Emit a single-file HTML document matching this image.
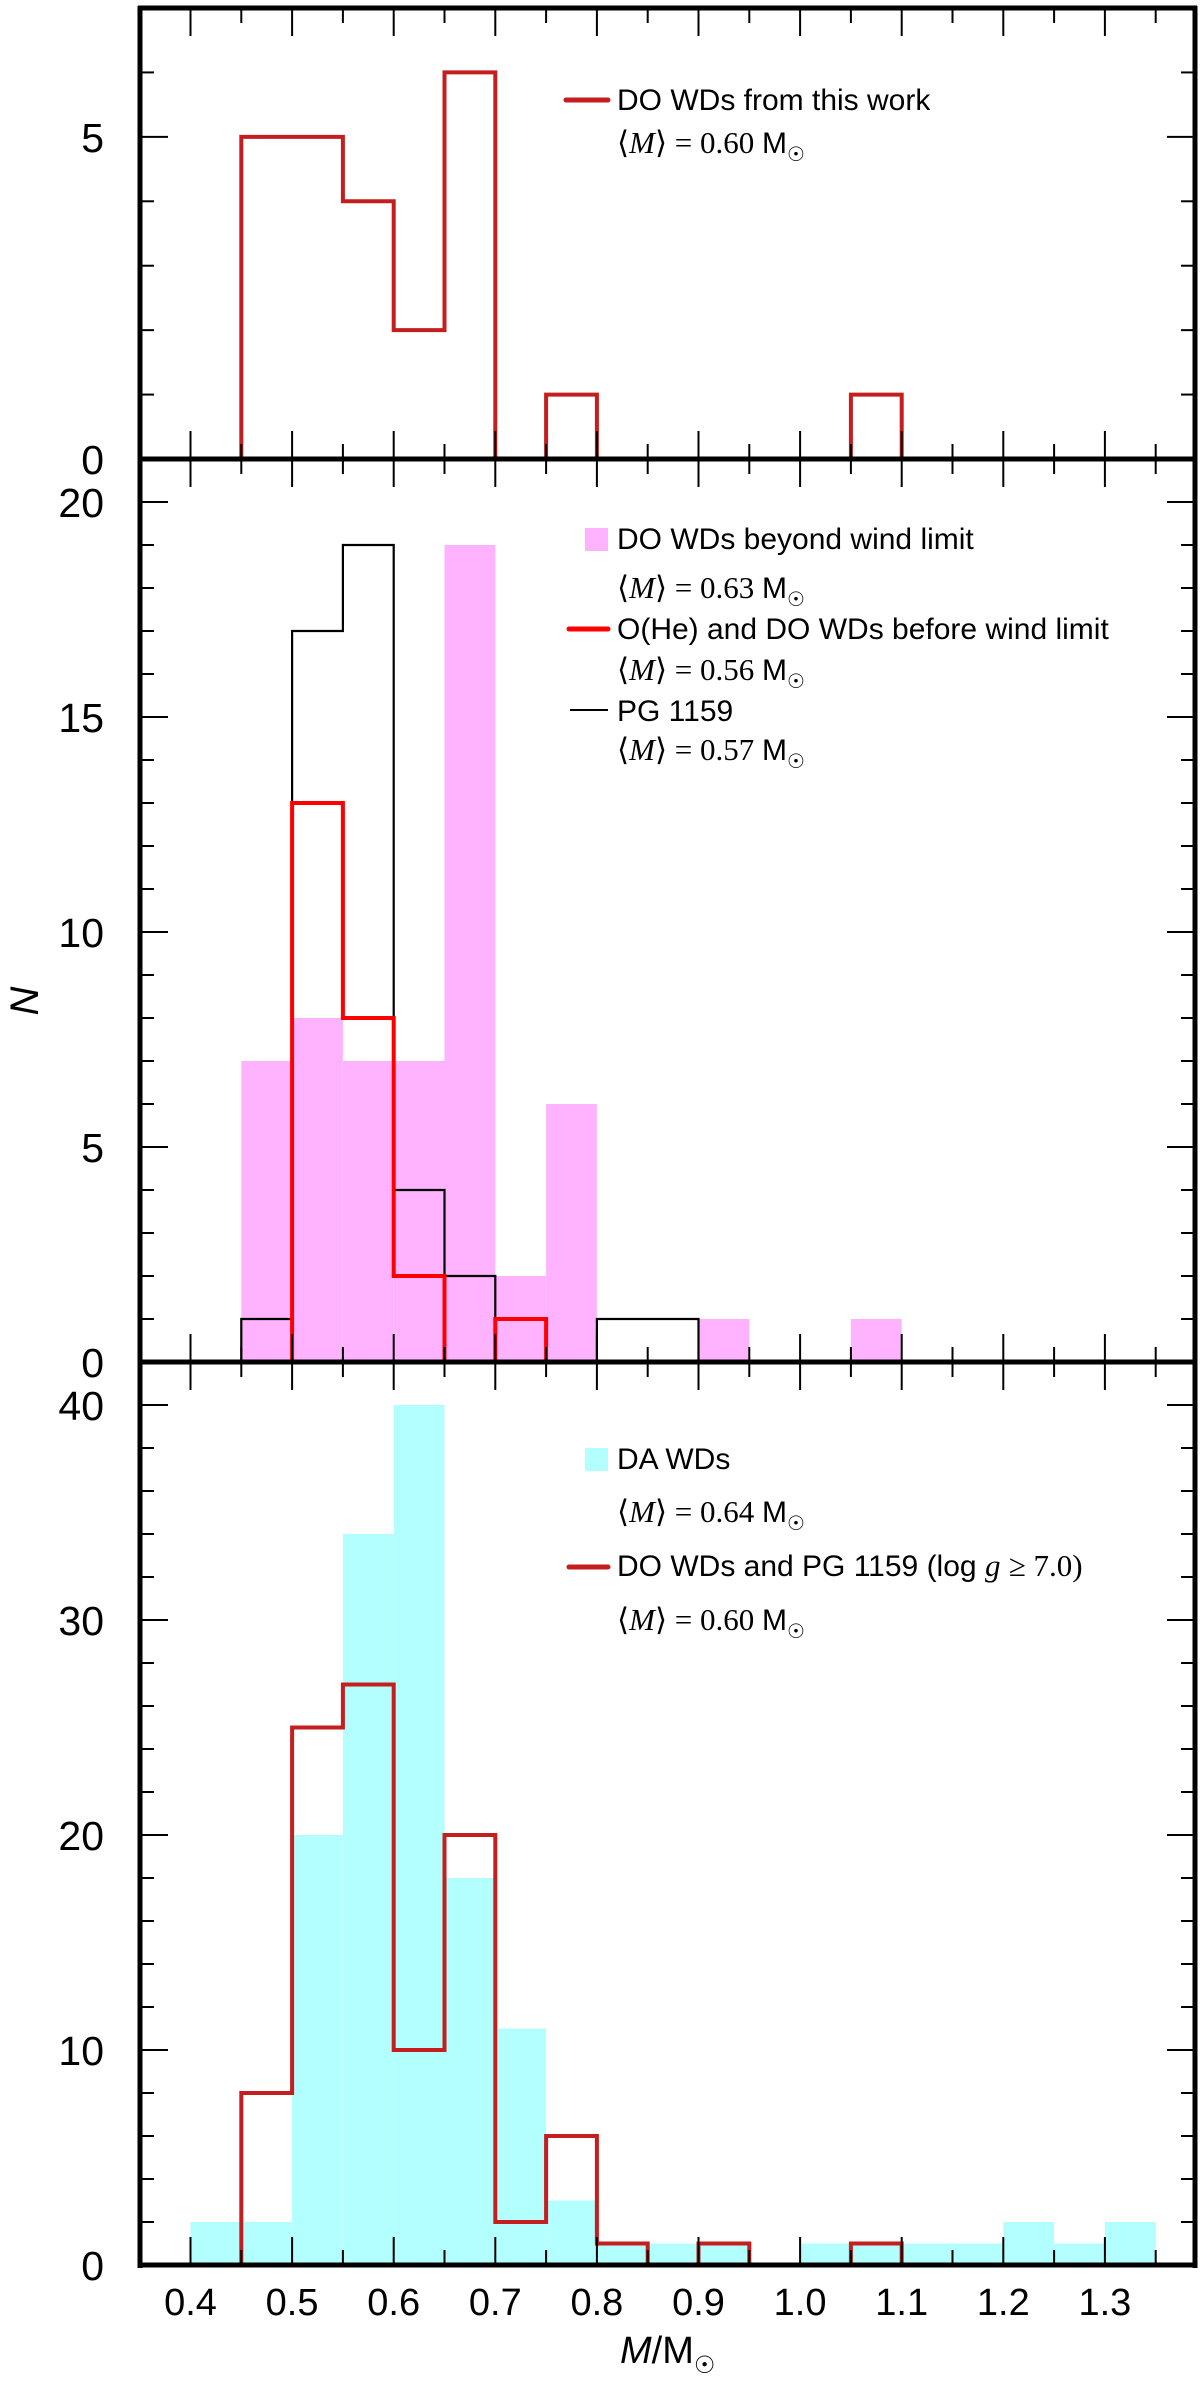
<!DOCTYPE html>
<html><head><meta charset="utf-8"><title>Mass distribution histograms</title>
<style>html,body{margin:0;padding:0;background:#fff}svg{display:block}</style></head>
<body>
<svg id="chart" width="1200" height="2382" viewBox="0 0 1200 2382" xmlns="http://www.w3.org/2000/svg">
<g id="fills"></g><g id="lines"></g><g id="axes"></g><g id="labels"></g>
<g id="legends" font-family="'Liberation Sans', sans-serif" font-size="30">
 <g>
  <line x1="566" y1="100" x2="608" y2="100" stroke="#c41e1e" stroke-width="5" stroke-linecap="round"/>
  <text x="617" y="110">DO WDs from this work</text>
  <text x="617" y="153"><tspan font-family="'Liberation Serif', serif" font-size="31">⟨<tspan font-style="italic">M</tspan>⟩ = 0.60 </tspan>M<tspan font-size="20" dy="8">☉</tspan></text>
 </g>
 <g>
  <rect x="585" y="528" width="23" height="23" fill="#ffb3ff"/>
  <text x="617" y="549">DO WDs beyond wind limit</text>
  <text x="617" y="598"><tspan font-family="'Liberation Serif', serif" font-size="31">⟨<tspan font-style="italic">M</tspan>⟩ = 0.63 </tspan>M<tspan font-size="20" dy="8">☉</tspan></text>
  <line x1="569" y1="629" x2="608" y2="629" stroke="#ff0000" stroke-width="5" stroke-linecap="round"/>
  <text x="617" y="639">O(He) and DO WDs before wind limit</text>
  <text x="617" y="680"><tspan font-family="'Liberation Serif', serif" font-size="31">⟨<tspan font-style="italic">M</tspan>⟩ = 0.56 </tspan>M<tspan font-size="20" dy="8">☉</tspan></text>
  <line x1="570" y1="710" x2="608" y2="710" stroke="#000" stroke-width="2"/>
  <text x="617" y="721">PG 1159</text>
  <text x="617" y="760"><tspan font-family="'Liberation Serif', serif" font-size="31">⟨<tspan font-style="italic">M</tspan>⟩ = 0.57 </tspan>M<tspan font-size="20" dy="8">☉</tspan></text>
 </g>
 <g>
  <rect x="585" y="1448" width="23" height="23" fill="#b3ffff"/>
  <text x="617" y="1469">DA WDs</text>
  <text x="617" y="1522"><tspan font-family="'Liberation Serif', serif" font-size="31">⟨<tspan font-style="italic">M</tspan>⟩ = 0.64 </tspan>M<tspan font-size="20" dy="8">☉</tspan></text>
  <line x1="569" y1="1567" x2="608" y2="1567" stroke="#c41e1e" stroke-width="5" stroke-linecap="round"/>
  <text x="617" y="1576">DO WDs and PG 1159 (log <tspan font-family="'Liberation Serif', serif" font-style="italic" font-size="31">g</tspan>   <tspan font-family="'Liberation Serif', serif" font-size="31">≥ 7.0)</tspan></text>
  <text x="617" y="1630"><tspan font-family="'Liberation Serif', serif" font-size="31">⟨<tspan font-style="italic">M</tspan>⟩ = 0.60 </tspan>M<tspan font-size="20" dy="8">☉</tspan></text>
 </g>
</g>
<text x="38" y="1001" transform="rotate(-90 38 1001)" text-anchor="middle" font-family="'Liberation Sans', sans-serif" font-style="italic" font-size="40">N</text>
<text x="620" y="2363" font-family="'Liberation Sans', sans-serif" font-size="38"><tspan font-style="italic">M</tspan>/M<tspan font-size="24" dy="10">☉</tspan></text>
</svg>
<script>
// bin lower edges (width 0.05)
const binStarts = [0.40,0.45,0.50,0.55,0.60,0.65,0.70,0.75,0.80,0.85,0.90,0.95,1.00,1.05,1.10,1.15,1.20,1.25,1.30];
const p1DoThisWork = [0,5,5,4,2,6,0,1,0,0,0,0,0,1,0,0,0,0,0];
const p2BeyondWind = [0,7,8,7,7,19,2,6,0,0,1,0,0,1,0,0,0,0,0];
const p2BeforeWind = [0,0,13,8,2,0,1,0,0,0,0,0,0,0,0,0,0,0,0];
const p2PG1159 = [0,1,17,19,4,2,1,0,1,1,0,0,0,0,0,0,0,0,0];
const p3DA = [2,2,20,34,40,18,11,3,1,1,1,0,1,1,1,1,2,1,2];
const p3DOPG = [0,8,25,27,10,20,2,6,1,0,1,0,0,1,0,0,0,0,0];
const xTickLabels = ["0.4","0.5","0.6","0.7","0.8","0.9","1.0","1.1","1.2","1.3"];
const p1YTicks = [0,5];
const p2YTicks = [0,5,10,15,20];
const p3YTicks = [0,10,20,30,40];

const NS="http://www.w3.org/2000/svg";
const L=140,R=1195;
function xs(v){return 190.5+(v-0.4)*1016;}
const panels=[
 {top:8,zero:459,ymax:7,minor:1,major:5,ticks:p1YTicks,name:'panel1'},
 {top:459,zero:1362,ymax:21,minor:1,major:5,ticks:p2YTicks,name:'panel2'},
 {top:1362,zero:2265,ymax:42,minor:2,major:10,ticks:p3YTicks,name:'panel3'}];
panels.forEach(p=>{p.ys=v=>p.zero-v*(p.zero-p.top)/p.ymax;});
const W=0.05;
function mk(tag,attrs,parent){const e=document.createElementNS(NS,tag);for(const k in attrs)e.setAttribute(k,attrs[k]);document.getElementById(parent).appendChild(e);return e;}

function fillHist(p,vals,color,name){
 vals.forEach((v,i)=>{ if(v<=0)return;
  const x0=xs(binStarts[i]),x1=xs(binStarts[i]+W);
  const r=mk('rect',{x:x0,y:p.ys(v),width:x1-x0,height:p.ys(0)-p.ys(v),fill:color},'fills');
  
  
 });
}
function stepHist(p,vals,color,w,name){
 let d='';
 let prev=0;
 vals.forEach((v,i)=>{
  const x0=xs(binStarts[i]),x1=xs(binStarts[i]+W);
  if(v!==prev) d+=`M${x0},${p.ys(prev)}L${x0},${p.ys(v)}`;
  if(v>0) d+=`M${x0},${p.ys(v)}L${x1},${p.ys(v)}`;
  prev=v;
 });
 if(prev>0){const xe=xs(binStarts[binStarts.length-1]+W);d+=`M${xe},${p.ys(prev)}L${xe},${p.ys(0)}`;}
 const e=mk('path',{d:d,fill:'none',stroke:color,'stroke-width':w,'stroke-linecap':'square'},'lines');
 
 
}
fillHist(panels[1],p2BeyondWind,'#ffb3ff','beyond-wind');
fillHist(panels[2],p3DA,'#b3ffff','da-wd');
stepHist(panels[0],p1DoThisWork,'#c41e1e',4,'do-this-work-step');
stepHist(panels[1],p2PG1159,'#000',2.2,'pg1159-step');
stepHist(panels[1],p2BeforeWind,'#ff0000',4,'before-wind-step');
stepHist(panels[2],p3DOPG,'#c41e1e',4,'do-pg1159-step');

function ln(x1,y1,x2,y2,w,name){const e=mk('line',{x1:x1,y1:y1,x2:x2,y2:y2,stroke:'#000','stroke-width':w},'axes');
 
 }
panels.forEach(p=>{
 for(let k=0;k<=20;k++){
  const v=0.4+k*0.05; if(v>1.385)break;
  const x=xs(v),len=(k%2===0)?28:15;
  ln(x,p.zero,x,p.zero-len,2,p.name+'-xtick');
  ln(x,p.top,x,p.top+len,2,p.name+'-xtick-top');
 }
 for(let v=0;v<=p.ymax;v+=p.minor){
  const y=p.ys(v),len=(v%p.major===0)?28:14;
  ln(L,y,L+len,y,2,p.name+'-ytick');
  ln(R,y,R-len,y,2,p.name+'-ytick-right');
 }
 p.ticks.forEach(v=>{
  const t=mk('text',{x:104,y:p.ys(v)+15,'text-anchor':'end','font-family':"'Liberation Sans', sans-serif",'font-size':41},'labels');
  t.textContent=v;
  
  
 });
 ln(L-2,p.zero,R+2,p.zero,5,p.name+'-x-axis');
});
ln(L-2,8,R+2,8,5,'top-frame');
ln(L,6,L,2268,5,'left-axis');
ln(R,6,R,2268,5,'right-axis');
xTickLabels.forEach(s=>{
 const t=mk('text',{x:xs(parseFloat(s)),y:2315,'text-anchor':'middle','font-family':"'Liberation Sans', sans-serif",'font-size':38},'labels');
 t.textContent=s;
 
 
});
</script>
</body></html>
